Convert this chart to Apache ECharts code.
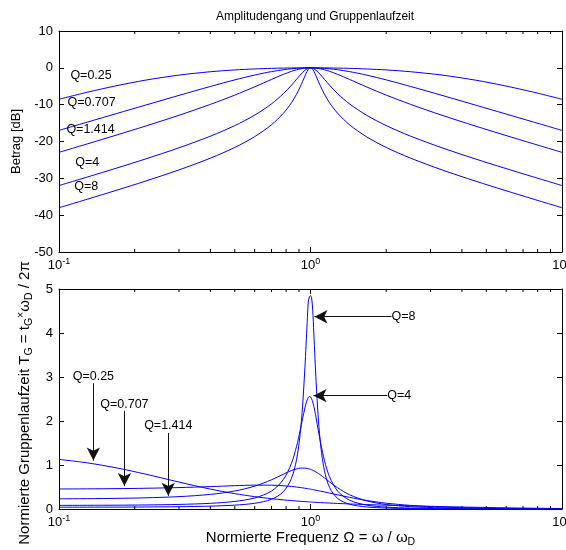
<!DOCTYPE html>
<html>
<head>
<meta charset="utf-8">
<script src="https://cdn.jsdelivr.net/npm/echarts@6/dist/echarts.min.js"></script>
<style>html,body{margin:0;padding:0;background:#fff}#c{width:566px;height:550px}</style>
</head>
<body>
<div id="c"></div>
<script>
// Normalized frequency Omega (shared x values)
const omega = [0.1, 0.13, 0.17, 0.22, 0.3, 0.4, 0.5, 0.6, 0.7, 0.78, 0.84, 0.88, 0.91, 0.93, 0.95, 0.96, 0.97, 0.98, 0.99, 1.0,
  1.0101, 1.0204, 1.0309, 1.0417, 1.0526, 1.0753, 1.0989, 1.1364, 1.1905, 1.2821, 1.4286, 1.6667, 2, 2.5, 3.3333, 4.5455, 5.8824, 7.6923, 10];

const seriesNames = ['Q=0.25', 'Q=0.707', 'Q=1.414', 'Q=4', 'Q=8'];

// Amplitude response [dB]
const magQ025 = [-8.53,-6.60,-4.83,-3.36,-1.97,-1.06,-0.57,-0.30,-0.14,-0.07,-0.03,-0.02,-0.01,-0.01,0,0,0,0,0,0,
  0,0,0,0,0,-0.01,-0.01,-0.02,-0.03,-0.07,-0.14,-0.30,-0.57,-1.06,-1.97,-3.36,-4.83,-6.60,-8.53];
const magQ0707 = [-16.99,-14.71,-12.38,-10.15,-7.48,-5.06,-3.27,-1.96,-1.02,-0.52,-0.26,-0.14,-0.08,-0.05,-0.02,-0.01,-0.01,0,0,0,
  0,0,-0.01,-0.01,-0.02,-0.05,-0.08,-0.14,-0.26,-0.52,-1.02,-1.96,-3.27,-5.06,-7.48,-10.15,-12.38,-14.71,-16.99];
const magQ1414 = [-22.95,-20.62,-18.21,-15.85,-12.88,-9.92,-7.40,-5.15,-3.14,-1.77,-0.95,-0.54,-0.30,-0.18,-0.09,-0.06,-0.03,-0.01,0,0,
  0,-0.01,-0.03,-0.06,-0.09,-0.18,-0.30,-0.54,-0.95,-1.77,-3.14,-5.15,-7.40,-9.92,-12.88,-15.85,-18.21,-20.62,-22.95];
const magQ4 = [-31.96,-29.62,-27.19,-24.78,-21.71,-18.55,-15.68,-12.83,-9.77,-7.02,-4.72,-3.12,-1.96,-1.26,-0.68,-0.44,-0.25,-0.11,-0.03,0,
  -0.03,-0.11,-0.25,-0.44,-0.68,-1.26,-1.96,-3.12,-4.72,-7.02,-9.77,-12.83,-15.68,-18.55,-21.71,-24.78,-27.19,-29.62,-31.96];
const magQ8 = [-37.98,-35.64,-33.20,-30.79,-27.71,-24.52,-21.61,-18.68,-15.44,-12.34,-9.48,-7.17,-5.16,-3.71,-2.24,-1.54,-0.93,-0.43,-0.11,0,
  -0.11,-0.43,-0.93,-1.54,-2.24,-3.71,-5.16,-7.17,-9.48,-12.34,-15.44,-18.68,-21.61,-24.52,-27.71,-30.79,-33.20,-35.64,-37.98];

// Normalized group delay
const gdQ025 = [1.128,1.047,0.932,0.795,0.612,0.452,0.349,0.281,0.234,0.207,0.191,0.182,0.175,0.171,0.168,0.166,0.164,0.162,0.161,0.159,
  0.158,0.156,0.154,0.153,0.151,0.148,0.145,0.141,0.135,0.126,0.115,0.101,0.087,0.072,0.055,0.039,0.027,0.018,0.011];
const gdQ0707 = [0.455,0.458,0.463,0.471,0.487,0.509,0.530,0.542,0.541,0.528,0.513,0.499,0.488,0.480,0.472,0.468,0.463,0.459,0.455,0.450,
  0.446,0.441,0.436,0.431,0.426,0.415,0.404,0.387,0.362,0.322,0.265,0.195,0.132,0.082,0.044,0.023,0.013,0.008,0.005];
const gdQ1414 = [0.231,0.235,0.242,0.254,0.281,0.332,0.409,0.519,0.664,0.791,0.874,0.912,0.928,0.931,0.929,0.926,0.922,0.916,0.909,0.900,
  0.891,0.880,0.867,0.854,0.839,0.806,0.768,0.706,0.616,0.481,0.325,0.187,0.102,0.053,0.025,0.012,0.007,0.004,0.002];
const gdQ4 = [0.082,0.084,0.087,0.092,0.104,0.129,0.172,0.251,0.408,0.669,1.038,1.422,1.789,2.052,2.297,2.399,2.479,2.533,2.556,2.547,
  2.505,2.433,2.333,2.211,2.073,1.775,1.482,1.101,0.732,0.407,0.200,0.090,0.043,0.021,0.009,0.004,0.003,0.001,0.001];
const gdQ8 = [0.041,0.042,0.043,0.046,0.052,0.065,0.088,0.130,0.221,0.393,0.695,1.121,1.712,2.336,3.207,3.721,4.244,4.706,4.82,4.85,
  4.80,4.520,3.994,3.429,2.894,2.020,1.418,0.868,0.490,0.239,0.109,0.047,0.022,0.010,0.005,0.002,0.001,0.001,0.000];

// Log-axis minor tick positions
const minorTicks = [0.2,0.3,0.4,0.5,0.6,0.7,0.8,0.9,2,3,4,5,6,7,8,9];

// Annotations (data coordinates)
const upperLabelPos = [[0.111,-2.2],[0.108,-9.5],[0.107,-16.7],[0.116,-25.8],[0.115,-32.3]];
const lowerRightLabels = ['Q=8','Q=4'];
const lowerRightText = [[2.10,4.37],[2.02,2.575]];
const lowerRightTip = [[1.037,4.37],[1.028,2.575]];
const lowerLeftLabels = ['Q=0.25','Q=0.707','Q=1.414'];
const lowerLeftText = [[0.137,3.01],[0.182,2.38],[0.272,1.89]];
const lowerLeftFrom = [[0.137,2.86],[0.182,2.23],[0.272,1.73]];
const lowerLeftTip = [[0.137,1.10],[0.182,0.52],[0.272,0.30]];

const FONT = '"Liberation Sans", Arial, Helvetica, sans-serif';
const magSeries = [magQ025, magQ0707, magQ1414, magQ4, magQ8];
const gdSeries = [gdQ025, gdQ0707, gdQ1414, gdQ4, gdQ8];
const pairs = (ys) => omega.map((x, i) => [x, ys[i]]);

const chart = echarts.init(document.getElementById('c'), null, {renderer: 'canvas'});

const G = [
  {left: 59, top: 31, width: 503, height: 221, outerBoundsMode: 'none', containLabel: false},
  {left: 59, top: 289, width: 503, height: 220, outerBoundsMode: 'none', containLabel: false}
];

function xAx(grid, pos, labels, extra) {
  return Object.assign({
    type: 'log', logBase: 10, min: 0.1, max: 10, gridIndex: grid, position: pos,
    axisLine: {show: true, onZero: false, lineStyle: {color: '#000', width: 1}},
    axisTick: {show: true, inside: true, length: 5, lineStyle: {color: '#000', width: 1}},
    splitLine: {show: false}, minorTick: {show: false},
    axisLabel: labels ? {
      show: true, margin: 5, color: '#000', fontFamily: FONT, hideOverlap: false,
      formatter: (v) => '{b|10}{e|' + Math.round(Math.log10(v)) + '}',
      rich: {b: {fontSize: 13, fontFamily: FONT, color: '#000'}, e: {fontSize: 9, fontFamily: FONT, color: '#000', padding: [0, 0, 8, 0]}}
    } : {show: false}
  }, extra || {});
}
function yAx(grid, pos, labels, min, max, interval, extra) {
  return Object.assign({
    type: 'value', min: min, max: max, interval: interval, gridIndex: grid, position: pos,
    axisLine: {show: true, onZero: false, lineStyle: {color: '#000', width: 1}},
    axisTick: {show: true, inside: true, length: 5, lineStyle: {color: '#000', width: 1}},
    splitLine: {show: false},
    axisLabel: labels ? {show: true, margin: 6, color: '#000', fontSize: 13, fontFamily: FONT} : {show: false}
  }, extra || {});
}

const lineStyle = {color: '#0000ff', width: 1};
const series = [];
magSeries.forEach((d, i) => series.push({
  name: seriesNames[i], type: 'line', xAxisIndex: 0, yAxisIndex: 0, data: pairs(d),
  showSymbol: false, smooth: 0.3, lineStyle: lineStyle, itemStyle: {color: '#0000ff'}, silent: true
}));
gdSeries.forEach((d, i) => series.push({
  name: seriesNames[i] + ' gd', type: 'line', xAxisIndex: 2, yAxisIndex: 2, data: pairs(d),
  showSymbol: false, smooth: 0.3, lineStyle: lineStyle, itemStyle: {color: '#0000ff'}, silent: true
}));

function minorTickSeries(xi, yi) {
  return {
    type: 'custom', xAxisIndex: xi, yAxisIndex: yi, silent: true,
    data: minorTicks.map(v => [v]),
    renderItem: function (params, api) {
      const cs = params.coordSys;
      const x = api.coord([api.value(0), 0])[0];
      const yb = cs.y + cs.height, yt = cs.y;
      return {type: 'group', children: [
        {type: 'line', shape: {x1: x, y1: yb, x2: x, y2: yb - 3}, style: {stroke: '#000', lineWidth: 1}},
        {type: 'line', shape: {x1: x, y1: yt, x2: x, y2: yt + 3}, style: {stroke: '#000', lineWidth: 1}}
      ]};
    }
  };
}
series.push(minorTickSeries(0, 0));
series.push(minorTickSeries(2, 2));

const labelText = {color: '#000', fontSize: 12.5, fontFamily: FONT};
// upper annotations
series.push({
  type: 'scatter', xAxisIndex: 0, yAxisIndex: 0, data: [], silent: true,
  markPoint: {
    symbol: 'circle', symbolSize: 0, animation: false,
    data: upperLabelPos.map((p, i) => ({coord: p, value: seriesNames[i],
      label: Object.assign({show: true, position: 'right', distance: 0, formatter: seriesNames[i]}, labelText)}))
  }
});
// lower annotations
const arrowLine = {color: '#111', width: 1, type: 'solid'};
series.push({
  type: 'scatter', xAxisIndex: 2, yAxisIndex: 2, data: [], silent: true,
  markPoint: {
    symbol: 'circle', symbolSize: 0, animation: false,
    data: lowerRightText.map((p, i) => ({coord: p,
      label: Object.assign({show: true, position: 'right', distance: 0, formatter: lowerRightLabels[i]}, labelText)}))
      .concat(lowerLeftText.map((p, i) => ({coord: p,
      label: Object.assign({show: true, position: 'inside', formatter: lowerLeftLabels[i]}, labelText)})))
  },
  markLine: {
    symbol: ['none', 'arrow'], symbolSize: [10, 13], animation: false, silent: true,
    label: {show: false}, lineStyle: arrowLine,
    data: lowerRightText.map((p, i) => [{coord: p}, {coord: lowerRightTip[i]}])
      .concat(lowerLeftFrom.map((p, i) => [{coord: p}, {coord: lowerLeftTip[i]}]))
  }
});

chart.setOption({
  animation: false,
  backgroundColor: '#fff',
  textStyle: {fontFamily: FONT},
  title: {text: 'Amplitudengang und Gruppenlaufzeit', left: 310, top: 6, textAlign: 'center',
    textStyle: {fontSize: 12, fontWeight: 'normal', color: '#000', fontFamily: FONT}},
  grid: G,
  xAxis: [
    xAx(0, 'bottom', true),
    xAx(0, 'top', false),
    xAx(1, 'bottom', true, {
      name: '{n|Normierte Frequenz Ω = ω / ω}{s|D}', nameLocation: 'middle', nameGap: 19,
      nameTextStyle: {rich: {n: {fontSize: 15, fontFamily: FONT, color: '#000'}, s: {fontSize: 10.5, fontFamily: FONT, color: '#000', padding: [9, 0, 0, 0]}}}
    }),
    xAx(1, 'top', false)
  ],
  yAxis: [
    yAx(0, 'left', true, -50, 10, 10, {name: 'Betrag [dB]', nameLocation: 'middle', nameGap: 32, nameRotate: 90,
      nameTextStyle: {fontSize: 13, fontFamily: FONT, color: '#000'}}),
    yAx(0, 'right', false, -50, 10, 10),
    yAx(1, 'left', true, 0, 5, 1, {
      name: '{n|Normierte Gruppenlaufzeit T}{s|G}{n| = t}{s|G}{u|×}{n|ω}{s|D}{n| / 2π}',
      nameLocation: 'middle', nameGap: 21, nameRotate: 90,
      nameTextStyle: {padding: [0, 8, 0, 0], rich: {
        n: {fontSize: 15, fontFamily: FONT, color: '#000'},
        s: {fontSize: 10.5, fontFamily: FONT, color: '#000', padding: [9, 0, 0, 0]},
        u: {fontSize: 10.5, fontFamily: FONT, color: '#000', padding: [0, 0, 7, 0]}
      }}
    }),
    yAx(1, 'right', false, 0, 5, 1)
  ],
  series: series
});
</script>
</body>
</html>
